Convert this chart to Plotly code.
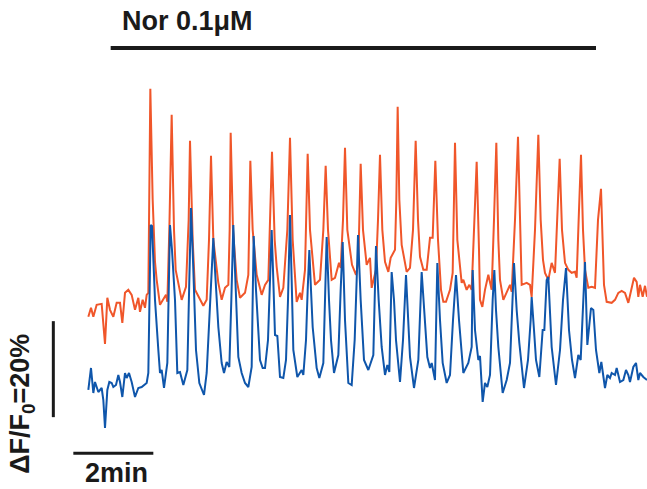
import plotly.graph_objects as go
import numpy as np

# ---- data: raw fluorescence (a.u.) of two cells over time (s) ----
F0 = 480.0  # baseline fluorescence (a.u.)

orange_t = [0.5, 4.5, 8, 13, 20.5, 23, 25.5, 29, 33, 38, 43, 48, 51.5, 55.5, 60.5, 65.5, 70.5, 75.5, 78, 82, 85.5, 88, 90.5,
            93.5, 97, 100.5, 103, 108, 113, 117, 119, 122,
            125.5, 129, 131.5, 135.5, 140.5, 147, 151,
            153, 157, 160.5, 168, 173, 178, 181.5,
            184.5, 188, 195.5, 200.5, 205.5, 210.5, 212.5,
            214, 217.5, 223, 228, 235.5, 240.5,
            243.5, 247, 253, 260.5, 265.5, 270.5, 274,
            276, 280, 283, 288, 293, 299,
            303, 307, 313, 318, 320.5, 325.5,
            329.5, 333, 340.5, 348, 353,
            356.5, 360, 365.5, 370.5, 376.5, 379, 382.5,
            385.5, 389, 396, 402, 405.5,
            409, 412.5, 418, 423, 425.5, 432, 435,
            438, 441.5, 445.5, 450.5, 454, 460.5, 462.5,
            464.5, 467, 470.5, 475.5, 478, 483, 487.5,
            491.5, 495, 498, 503, 508, 513, 517,
            521, 525, 529.5, 533, 537, 543, 547,
            550.5, 554, 560.5, 563, 568, 572, 575.5, 580,
            583, 586.5, 588, 591.5, 595.5, 600.5, 605.5, 609,
            612.5, 615.5, 618, 623, 628, 633, 635.5, 640.5,
            645, 648, 650.5, 658, 663, 665.5, 670.5,
            675.5, 679, 682.5, 685.5, 690.5, 695.5, 700.5, 704,
            707.5, 711, 715.5, 720.5, 725.5, 730.5, 733, 736.5,
            739.5, 742.5, 745.5, 750.5, 755.5, 760.5, 765,
            769.5, 772, 774, 778, 785.5, 790.5, 795.5, 800.5, 805.5, 810.5, 815.5,
            819, 823, 825.5, 828, 832, 835.5, 838.5]
orange_f = [468, 477, 468, 480, 481, 458, 441, 487, 475, 468, 482, 482, 462, 492, 495, 490, 475, 487, 473, 485, 477, 490, 492,
            696, 585, 523, 505, 480, 485, 490, 483, 555,
            670, 555, 515, 503, 485, 498, 565,
            644, 545, 495, 485, 479, 485, 545,
            629, 545, 502, 485, 497, 500, 555,
            652, 555, 505, 487, 492, 510,
            624, 555, 510, 490, 500, 505, 585,
            633, 545, 518, 488, 497, 555,
            647, 545, 483, 492, 485, 515,
            631, 555, 500, 505, 555,
            619, 555, 505, 507, 522, 517, 565,
            637, 555, 520, 510, 522,
            621, 555, 520, 527, 497, 515, 565,
            630, 555, 523, 513, 527, 535, 585,
            678, 585, 540, 523, 513, 517, 555,
            644, 565, 528, 515, 515, 547, 547,
            624, 545, 495, 483, 483, 495, 512,
            642, 545, 502, 505, 495, 500, 495, 585,
            623, 535, 485, 478, 495, 510, 495, 565,
            642, 545, 505, 485, 492, 500, 493, 565,
            648, 555, 500, 502, 500, 488, 555,
            650, 565, 525, 512, 505, 522, 512, 565,
            626, 555, 522, 515, 512, 513, 507, 575,
            630, 555, 515, 497, 498, 497, 565,
            596, 545, 500, 483, 482, 485, 492, 494, 492, 482, 497,
            507, 503, 488, 500, 488, 499, 488]

blue_t = [0.5, 4.5, 8, 10.5, 15.5, 20.5, 23, 25.5, 29, 32, 35.5, 38, 42, 45.5, 48, 51.5, 55.5, 58, 61.5, 65.5, 70.5, 75.5, 80.5, 84, 88, 90.5,
          92, 94, 96, 100.5, 105.5, 108, 110.5, 114, 119, 121,
          123, 126, 130.5, 134, 138, 143, 147, 149, 152,
          154.5, 157.5, 162, 167, 174, 178, 181.5, 184.5,
          188, 190.5, 195.5, 200.5, 204, 208, 212, 215,
          218, 220.5, 225.5, 230.5, 235.5, 240.5, 245.5, 247,
          248.5, 252, 258, 262, 265.5, 270, 273,
          275.5, 277.5, 280.5, 284, 288, 293, 297, 300,
          303, 305.5, 308, 314, 320.5, 323, 327, 329.5,
          332, 334.5, 337, 343, 347, 353, 355.5,
          358, 361.5, 364.5, 369, 375.5, 379,
          382, 385.5, 390.5, 395.5, 400, 403,
          405, 409, 414, 420.5, 428, 430,
          432, 436, 440.5, 445.5, 449, 452,
          455.5, 459, 462, 468, 472.5,
          477, 480, 483, 489, 495.5,
          500.5, 505, 509, 513, 515.5, 520.5, 523,
          524, 528, 532, 538, 543, 547.5,
          552, 556.5, 563, 570.5, 575.5,
          577, 580.5, 585.5, 588, 592, 595.5, 599, 603, 607,
          609.5, 612, 615.5, 622, 628, 633, 637,
          639, 643, 647, 654, 660, 664,
          665.5, 669, 672, 677, 682, 684.5, 688,
          690.5, 693, 695.5, 702, 708, 712.5,
          717, 721.5, 726, 730.5, 735.5, 739, 742.5,
          745.5, 749, 754.5, 758, 762, 767, 770, 775.5, 779, 783, 785.5, 790.5, 793, 798,
          803, 807, 810.5, 813, 818, 822, 825.5, 828, 833, 838.5]
blue_f = [475, 497, 472, 483, 473, 477, 465, 437, 475, 483, 482, 478, 480, 490, 483, 468, 492, 487, 492, 483, 468, 477, 478, 480, 482, 492,
          565, 640, 639, 565, 515, 492, 495, 477, 502, 565,
          640, 615, 565, 492, 493, 480, 492, 495, 585,
          657, 605, 515, 482, 470, 492, 545, 585,
          627, 595, 538, 502, 492, 503, 498, 565,
          640, 595, 508, 492, 482, 478, 498, 565,
          629, 575, 505, 497, 497, 525, 585,
          635, 595, 530, 529, 488, 487, 505, 565,
          650, 585, 515, 488, 495, 490, 525, 575,
          615, 575, 538, 497, 487, 502, 565,
          628, 565, 525, 492, 510, 575,
          623, 545, 482, 480, 525, 585,
          630, 565, 505, 495, 510, 565,
          619, 565, 518, 490, 500, 493,
          593, 565, 525, 483, 525,
          590, 545, 508, 477, 505,
          593, 545, 508, 497, 502, 485, 565,
          602, 545, 502, 482, 490, 545,
          590, 545, 492, 502, 518,
          595, 535, 505, 509, 463, 482, 478, 490, 565,
          595, 555, 518, 472, 485, 502, 575,
          602, 555, 522, 477, 505, 545,
          568, 535, 505, 488, 535, 535, 585,
          588, 545, 518, 480, 515, 565,
          597, 535, 505, 487, 510, 505, 565,
          603, 520, 557, 555, 515, 492, 503, 477, 490, 487, 492, 490, 497, 483,
          485, 495, 490, 483, 498, 502, 485, 492, 488, 485]

drug_label = "Nor 0.1μM"
drug_window = [34, 762]          # s, application of noradrenaline
scale_time = 120                 # s  (2 min)
scale_dff = 20                   # %  ΔF/F0
time_label = "2min"
dff_label = "ΔF/F<sub>0</sub>=20%"

# ---- presentation ----
ORANGE = "#F0562A"
BLUE = "#0F56AB"
ORANGE_OFFSET = 16.7   # vertical stacking offset of the upper trace (%)

def dff(f):
    return (np.asarray(f, dtype=float) - F0) / F0 * 100.0

fig = go.Figure()
fig.add_trace(go.Scatter(x=orange_t, y=dff(orange_f) + ORANGE_OFFSET, mode="lines",
                         line=dict(color=ORANGE, width=2), hoverinfo="skip", showlegend=False))
fig.add_trace(go.Scatter(x=blue_t, y=dff(blue_f), mode="lines",
                         line=dict(color=BLUE, width=2), hoverinfo="skip", showlegend=False))

BLACK = "#1a1a1a"
# drug bar
fig.add_shape(type="line", x0=drug_window[0], x1=drug_window[1], y0=70.2, y1=70.2,
              line=dict(color=BLACK, width=4))
# vertical scale bar
fig.add_shape(type="line", x0=-52, x1=-52, y0=-6.7, y1=-6.7 + scale_dff,
              line=dict(color=BLACK, width=3))
# horizontal scale bar
fig.add_shape(type="line", x0=-22, x1=-22 + scale_time, y0=-14.2, y1=-14.2,
              line=dict(color=BLACK, width=3))

FONT = dict(family="Liberation Sans, Arial, sans-serif", size=27, color=BLACK)
fig.add_annotation(x=149, y=75.8, text="<b>" + drug_label + "</b>", showarrow=False,
                   font=FONT, xanchor="center", yanchor="middle")
fig.add_annotation(x=43, y=-18.4, text="<b>" + time_label + "</b>", showarrow=False,
                   font=FONT, xanchor="center", yanchor="middle")
fig.add_annotation(x=-98, y=-4.0, text="<b>" + dff_label + "</b>", showarrow=False,
                   font=FONT, xanchor="center", yanchor="middle", textangle=-90)

fig.update_layout(
    width=647, height=489,
    margin=dict(l=0, r=0, t=0, b=0),
    paper_bgcolor="white", plot_bgcolor="white",
    xaxis=dict(range=[-132, 838.5], visible=False, fixedrange=True),
    yaxis=dict(range=[-21.67, 80.21], visible=False, fixedrange=True),
)

fig.write_html("out.html", config={"displayModeBar": False},
               post_script="document.body.style.margin='0';document.body.style.overflow='hidden';")
